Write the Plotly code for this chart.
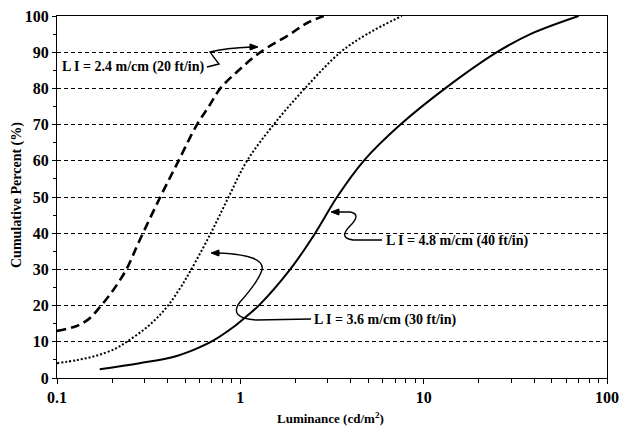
import plotly.graph_objects as go

# LI = 2.4 m/cm (20 ft/in) - dashed
lum_24 = [0.1, 0.127, 0.15, 0.174, 0.202, 0.239, 0.282, 0.366, 0.46, 0.58, 0.673, 0.778, 0.98, 1.285, 1.87, 2.3, 2.85]
pct_24 = [13, 14.3, 16.4, 20, 24.2, 30, 38, 50, 60, 70, 75, 80, 85, 90, 95, 98, 100]

# LI = 3.6 m/cm (30 ft/in) - dotted
lum_36 = [0.1, 0.13, 0.165, 0.21, 0.24, 0.295, 0.348, 0.403, 0.465, 0.54, 0.69, 0.863, 1.088, 1.52, 2.25, 3.52, 4.91, 7.6]
pct_36 = [4.1, 5.0, 6.2, 8.2, 10, 13.2, 16.4, 20, 24.5, 30, 40, 50, 60, 70, 80, 90, 95, 100]

# LI = 4.8 m/cm (40 ft/in) - solid
lum_48 = [0.171, 0.282, 0.43, 0.552, 0.71, 0.913, 1.078, 1.26, 1.87, 2.56, 3.37, 4.71, 7.47, 13.1, 25.1, 38.2, 70]
pct_48 = [2.4, 4.1, 5.8, 7.7, 10.3, 14, 17, 20, 30, 40, 50, 60, 70, 80, 90, 95, 100]

x_ticks = [0.1, 1, 10, 100]
x_tick_text = ["0.1", "1", "10", "100"]
y_ticks = [0, 10, 20, 30, 40, 50, 60, 70, 80, 90, 100]

labels = ["L I = 2.4 m/cm (20 ft/in)", "L I = 3.6 m/cm (30 ft/in)", "L I = 4.8 m/cm (40 ft/in)"]
x_title = "Luminance (cd/m<sup>2</sup>)"
y_title = "Cumulative Percent (%)"

FONT = "Liberation Serif"
W, H = 623, 433
ML, MR, MT, MB = 57, 16, 16, 55
PW, PH = W - ML - MR, H - MT - MB

def px2paper(px, py):
    return (px - ML) / PW, (H - MB - py) / PH

def path_from_px(cmds):
    out = []
    for c in cmds:
        if isinstance(c, str):
            out.append(c)
        else:
            x, y = px2paper(*c)
            out.append(f"{x:.4f},{y:.4f}")
    return " ".join(out)

fig = go.Figure()
fig.add_trace(go.Scatter(x=lum_24, y=pct_24, mode="lines", line=dict(color="black", width=2.6, dash="9px,5px", shape="spline"), showlegend=False))
fig.add_trace(go.Scatter(x=lum_36, y=pct_36, mode="lines", line=dict(color="black", width=2, dash="2px,2px", shape="spline"), showlegend=False))
fig.add_trace(go.Scatter(x=lum_48, y=pct_48, mode="lines", line=dict(color="black", width=2, shape="spline"), showlegend=False))

# leader lines (pixel geometry -> paper coords)
leaders = [
    ["M", (207, 67), "L", (219, 64), "Q", (214, 58), (210, 52), "Q", (225, 48), (252, 47)],
    ["M", (311, 319), "L", (256, 320), "Q", (228, 318), (240, 302), "Q", (258, 282), (262, 270),
     "Q", (266, 255), (218, 253)],
    ["M", (382, 240), "L", (353, 240), "Q", (338, 238), (350, 226), "Q", (362, 214), (350, 212), "L", (337, 212)],
]
for p in leaders:
    fig.add_shape(type="path", xref="paper", yref="paper", path=path_from_px(p),
                  line=dict(color="black", width=1.4))

# arrowheads (small filled triangles)
heads = [
    ["M", (258, 47), "L", (250, 44), "L", (250, 50), "Z"],
    ["M", (211, 253), "L", (219, 250), "L", (219, 256), "Z"],
    ["M", (331, 212), "L", (339, 209), "L", (339, 215), "Z"],
]
for p in heads:
    fig.add_shape(type="path", xref="paper", yref="paper", path=path_from_px(p),
                  line=dict(color="black", width=1), fillcolor="black")

text_pos = [(60, 67), (312, 320), (384, 241)]
for (tx, ty), t in zip(text_pos, labels):
    x, y = px2paper(tx, ty)
    fig.add_annotation(x=x, y=y, xref="paper", yref="paper", text=t, showarrow=False,
                       xanchor="left", yanchor="middle",
                       font=dict(family=FONT, size=14, color="black", weight="bold"))

# axis titles
xt, yt = px2paper(330, 418)
fig.add_annotation(x=xt, y=yt, xref="paper", yref="paper", text=x_title, showarrow=False,
                   xanchor="center", yanchor="middle",
                   font=dict(family=FONT, size=13, color="black", weight="bold"))
xt, yt = px2paper(17, 195)
fig.add_annotation(x=xt, y=yt, xref="paper", yref="paper", text=y_title, showarrow=False,
                   textangle=-90, xanchor="center", yanchor="middle",
                   font=dict(family=FONT, size=14, color="black", weight="bold"))

fig.update_xaxes(type="log", range=[-1, 2], tickvals=x_ticks, ticktext=x_tick_text,
                 ticks="outside", ticklen=5, tickcolor="black", showline=True, linecolor="black",
                 linewidth=1.2, mirror=True, showgrid=False, zeroline=False, automargin=False,
                 minor=dict(ticks="outside", ticklen=4, tickcolor="black", dtick="D1", showgrid=False),
                 tickfont=dict(family=FONT, size=16, color="black", weight="bold"))
fig.update_yaxes(range=[0, 100], tickvals=y_ticks, ticks="outside", ticklen=4, tickcolor="black",
                 showline=True, linecolor="black", linewidth=1.2, mirror=True, automargin=False,
                 showgrid=True, gridcolor="black", gridwidth=1, griddash="4px,3px", zeroline=False,
                 minor=dict(ticks="outside", ticklen=3, tickcolor="black", dtick=5, showgrid=False),
                 tickfont=dict(family=FONT, size=16, color="black", weight="bold"))

fig.update_layout(width=W, height=H, margin=dict(l=ML, r=MR, t=MT, b=MB),
                  paper_bgcolor="white", plot_bgcolor="white")

fig.write_html("out.html", config={"displayModeBar": False},
               post_script="document.body.style.margin='0';document.body.style.padding='0';document.body.style.overflow='hidden';")
